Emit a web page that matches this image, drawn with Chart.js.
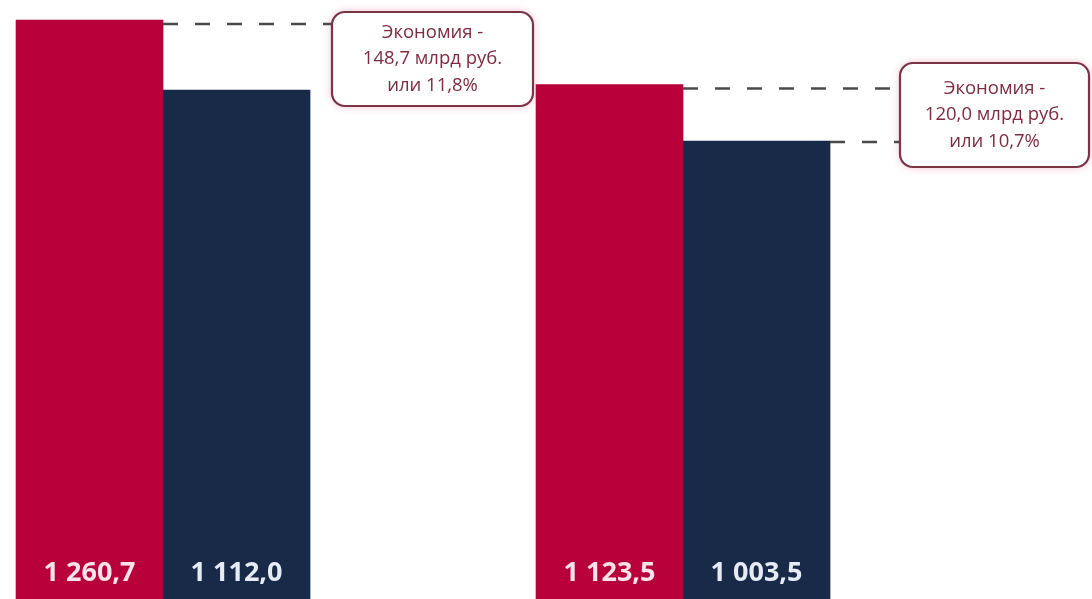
<!DOCTYPE html>
<html>
<head>
<meta charset="utf-8">
<script src="https://cdn.jsdelivr.net/npm/chart.js@4.4.1/dist/chart.umd.min.js"></script>
<style>
html,body{margin:0;padding:0;background:#ffffff;overflow:hidden}
#wrap{position:relative;width:1092px;height:599px}
</style>
</head>
<body>
<div id="wrap"><canvas id="c"></canvas></div>
<script>
// ---- data ----
const categories = ['Период 1', 'Период 2'];
const categoryPositions = [0, 1];
const seriesNames = ['Базовый', 'Фактический'];
const seriesRed = [1260.7, 1123.5];
const seriesNavy = [1112.0, 1003.5];
const unitText = 'млрд руб.';
const savingsWord = 'Экономия -';

const RED = '#b8003a';
const NAVY = '#182a47';

function fmt(v) {
  const parts = v.toFixed(1).split('.');
  return parts[0].replace(/\B(?=(\d{3})+(?!\d))/g, ' ') + ',' + parts[1];
}

const valueLabels = {
  id: 'valueLabels',
  afterDatasetsDraw(chart) {
    const ctx = chart.ctx;
    const area = chart.chartArea;
    ctx.save();
    ctx.font = 'bold 27px "Open Sans", "Liberation Sans", sans-serif';
    ctx.textAlign = 'center';
    ctx.textBaseline = 'middle';
    chart.data.datasets.forEach((ds, di) => {
      const meta = chart.getDatasetMeta(di);
      meta.data.forEach((bar, i) => {
        ctx.fillStyle = di === 0 ? '#fbe3eb' : '#e6ecf5';
        ctx.fillText(fmt(ds.data[i].y), bar.x, area.bottom - 26);
      });
    });
    ctx.restore();
  }
};

const savingsNotes = {
  id: 'savingsNotes',
  afterDatasetsDraw(chart, args, opts) {
    const ctx = chart.ctx;
    const mRed = chart.getDatasetMeta(0);
    const mNavy = chart.getDatasetMeta(1);
    ctx.save();
    opts.boxes.forEach((box, i) => {
      const r = mRed.data[i];
      const n = mNavy.data[i];
      ctx.strokeStyle = '#4a4a4a';
      ctx.lineWidth = 2.5;
      ctx.setLineDash([15, 17]);
      ctx.beginPath();
      ctx.moveTo(r.x + r.width / 2, r.y + 4);
      ctx.lineTo(box.x, r.y + 4);
      ctx.stroke();
      if (box.navyLine) {
        ctx.beginPath();
        ctx.moveTo(n.x + n.width / 2, n.y + 1);
        ctx.lineTo(box.x, n.y + 1);
        ctx.stroke();
      }
    });
    ctx.setLineDash([]);
    opts.boxes.forEach((box, i) => {
      const red = seriesRed[i];
      const diff = red - seriesNavy[i];
      const pct = diff / red * 100;
      const lines = [savingsWord, fmt(diff) + ' ' + unitText, 'или ' + fmt(pct) + '%'];
      ctx.save();
      ctx.shadowColor = 'rgba(210,40,90,0.35)';
      ctx.shadowBlur = 8;
      ctx.fillStyle = '#ffffff';
      ctx.beginPath();
      ctx.roundRect(box.x, box.y, box.w, box.h, 13);
      ctx.fill();
      ctx.restore();
      ctx.strokeStyle = '#7a3446';
      ctx.lineWidth = 2.2;
      ctx.beginPath();
      ctx.roundRect(box.x, box.y, box.w, box.h, 13);
      ctx.stroke();
      ctx.fillStyle = '#7c2c40';
      ctx.font = '18.5px "Open Sans", "Liberation Sans", sans-serif';
      ctx.textAlign = 'center';
      ctx.textBaseline = 'middle';
      const cx = box.x + box.w / 2;
      const cy = box.y + box.h / 2;
      lines.forEach((t, k) => ctx.fillText(t, cx, cy + (k - 1) * 26.5));
    });
    ctx.restore();
  }
};

new Chart(document.getElementById('c'), {
  type: 'bar',
  data: {
    labels: categories,
    datasets: [
      {
        label: seriesNames[0],
        data: categoryPositions.map((x, i) => ({ x: x, y: seriesRed[i] })),
        backgroundColor: RED,
        borderWidth: 0,
        barThickness: 147
      },
      {
        label: seriesNames[1],
        data: categoryPositions.map((x, i) => ({ x: x, y: seriesNavy[i] })),
        backgroundColor: NAVY,
        borderWidth: 0,
        barThickness: 147
      }
    ]
  },
  options: {
    responsive: true,
    maintainAspectRatio: false,
    animation: false,
    layout: { padding: 0 },
    scales: {
      x: { type: 'linear', display: false, offset: false, min: -0.3135, max: 1.7865,
           afterBuildTicks: s => { s.ticks = categoryPositions.map(v => ({ value: v })); } },
      y: { display: false, min: 30.6, max: 1303.2 }
    },
    plugins: {
      legend: { display: false },
      tooltip: { enabled: false },
      savingsNotes: {
        boxes: [
          { x: 332, y: 12, w: 201, h: 94, navyLine: false },
          { x: 900, y: 63, w: 189, h: 104, navyLine: true }
        ]
      }
    }
  },
  plugins: [valueLabels, savingsNotes]
});
</script>
</body>
</html>
